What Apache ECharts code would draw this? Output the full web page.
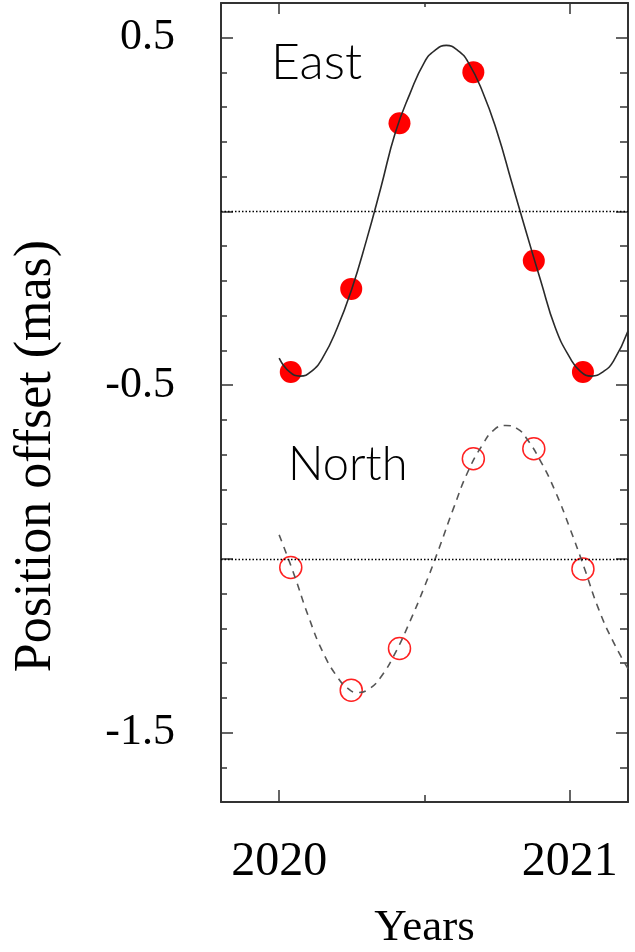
<!DOCTYPE html>
<html>
<head>
<meta charset="utf-8">
<script src="https://cdn.jsdelivr.net/npm/echarts@6/dist/echarts.min.js"></script>
<style>
  html, body { margin: 0; padding: 0; background: #fff; }
  #main { width: 635px; height: 952px; }
</style>
</head>
<body>
<div id="main"></div>
<script>
// observed epochs (years) and offsets (mas)
const obsYears = [2020.040, 2020.248, 2020.414, 2020.668, 2020.876, 2021.045];
const eastObs = [-0.462, -0.223, 0.254, 0.401, -0.142, -0.462];
const northObs = [-1.025, -1.378, -1.258, -0.712, -0.683, -1.029];

// fitted curves
const eastFitYears = [2020.00, 2020.036, 2020.072, 2020.11, 2020.15, 2020.20, 2020.25, 2020.30,
  2020.35, 2020.40, 2020.45, 2020.50, 2020.535, 2020.575, 2020.615, 2020.65, 2020.70, 2020.75,
  2020.80, 2020.85, 2020.90, 2020.95, 2021.00, 2021.037, 2021.075, 2021.115, 2021.15, 2021.20];
const eastFit = [-0.422, -0.462, -0.474, -0.461, -0.421, -0.335, -0.223, -0.084,
  0.069, 0.228, 0.339, 0.430, 0.463, 0.478, 0.463, 0.430, 0.344, 0.228,
  0.084, -0.060, -0.200, -0.335, -0.421, -0.461, -0.474, -0.461, -0.431, -0.344];

const northFitYears = [2020.00, 2020.05, 2020.10, 2020.15, 2020.20, 2020.235, 2020.27, 2020.31,
  2020.35, 2020.40, 2020.45, 2020.50, 2020.55, 2020.60, 2020.65, 2020.70, 2020.74, 2020.78,
  2020.82, 2020.85, 2020.90, 2020.95, 2021.00, 2021.05, 2021.10, 2021.15, 2021.20];
const northFit = [-0.931, -1.042, -1.164, -1.268, -1.340, -1.372, -1.385, -1.374,
  -1.340, -1.270, -1.180, -1.080, -0.970, -0.854, -0.748, -0.671, -0.628, -0.616,
  -0.626, -0.652, -0.720, -0.806, -0.912, -1.027, -1.147, -1.240, -1.316];

// axes
const xMajorTicks = [2020, 2021];
const xMinorTicks = [2020.5];
const xLabels = [2020, 2021];
const yMajorTicks = [0.5, 0, -0.5, -1.0, -1.5];
const yMinorTicks = [0.6, 0.4, 0.3, 0.2, 0.1, -0.1, -0.2, -0.3, -0.4, -0.6, -0.7, -0.8, -0.9,
  -1.1, -1.2, -1.3, -1.4, -1.6];
const yLabels = [0.5, -0.5, -1.5];
const refLines = [0, -1.0];

const frame = '#333';
const serif = '"Liberation Serif", "DejaVu Serif", serif';
const thin = 'Lato, "Open Sans", sans-serif';

function pair(xs, ys) {
  return xs.map((x, i) => [x, ys[i]]);
}

function xAx(position, ticks, len, line, labels) {
  return {
    type: 'value', position: position, min: 2019.8, max: 2021.2,
    axisLine: { show: line, onZero: false, lineStyle: { color: frame, width: 2 } },
    axisTick: { show: true, inside: true, length: len, customValues: ticks,
      lineStyle: { color: frame, width: 1.5 } },
    axisLabel: labels ? {
      show: true, customValues: labels, margin: 36, color: '#000',
      fontFamily: serif, fontSize: 48, formatter: v => String(Math.round(v))
    } : { show: false },
    splitLine: { show: false }
  };
}

function yAx(position, ticks, len, line, labels) {
  return {
    type: 'value', position: position, min: -1.7, max: 0.6,
    axisLine: { show: line, onZero: false, lineStyle: { color: frame, width: 2 } },
    axisTick: { show: true, inside: true, length: len, customValues: ticks,
      lineStyle: { color: frame, width: 1.5 } },
    axisLabel: labels ? {
      show: true, customValues: labels, margin: 46, color: '#000',
      fontFamily: serif, fontSize: 44, formatter: v => v.toFixed(1)
    } : { show: false },
    splitLine: { show: false }
  };
}

const xb = xAx('bottom', xMajorTicks, 12, true, xLabels);
xb.name = 'Years';
xb.nameLocation = 'middle';
xb.nameGap = 104;
xb.nameTextStyle = { fontFamily: serif, fontSize: 45, color: '#000' };

var myChart = echarts.init(document.getElementById('main'));

option = {
  animation: false,
  grid: { left: 221, right: 7, top: 3, bottom: 150, containLabel: false, outerBoundsMode: 'none' },
  xAxis: [
    xb,
    xAx('bottom', xMinorTicks, 7, false, null),
    xAx('top', xMajorTicks, 11, true, null),
    xAx('top', xMinorTicks, 4, false, null)
  ],
  yAxis: [
    yAx('left', yMajorTicks, 12, true, yLabels),
    yAx('left', yMinorTicks, 6, false, null),
    yAx('right', yMajorTicks, 12, true, null),
    yAx('right', yMinorTicks, 8, false, null)
  ],
  graphic: [
    { type: 'text', left: 271, top: 38, style: { text: 'East', fontFamily: thin,
      fontWeight: 300, fontSize: 50, fill: '#000' } },
    { type: 'text', left: 288, top: 441, style: { text: 'North', fontFamily: thin,
      fontWeight: 300, fontSize: 47, fill: '#000' } },
    { type: 'text', x: 36, y: 456, rotation: Math.PI / 2,
      style: { text: 'Position offset (mas)', fontFamily: serif, fontSize: 52, fill: '#000',
        align: 'center', verticalAlign: 'middle' } }
  ],
  series: [
    {
      name: 'East obs', type: 'scatter', data: pair(obsYears, eastObs),
      symbol: 'circle', symbolSize: 22, z: 2,
      itemStyle: { color: '#ff0000', opacity: 1 }
    },
    {
      name: 'North obs', type: 'scatter', data: pair(obsYears, northObs),
      symbol: 'circle', symbolSize: 22, z: 2,
      itemStyle: { color: 'rgba(0,0,0,0)', borderColor: '#ff2020', borderWidth: 1.5, opacity: 1 }
    },
    {
      name: 'East fit', type: 'line', data: pair(eastFitYears, eastFit),
      smooth: 0.5, showSymbol: false, z: 3,
      lineStyle: { color: '#2a2a2a', width: 1.6 },
      markLine: {
        silent: true, symbol: 'none', label: { show: false },
        lineStyle: { color: '#000', type: [1.5, 2], width: 1.3 },
        data: refLines.map(v => ({ yAxis: v }))
      }
    },
    {
      name: 'North fit', type: 'line', data: pair(northFitYears, northFit),
      smooth: 0.5, showSymbol: false, z: 3,
      lineStyle: { color: '#555', width: 1.6, type: [7, 6] }
    }
  ]
};

myChart.setOption(option);
</script>
</body>
</html>
